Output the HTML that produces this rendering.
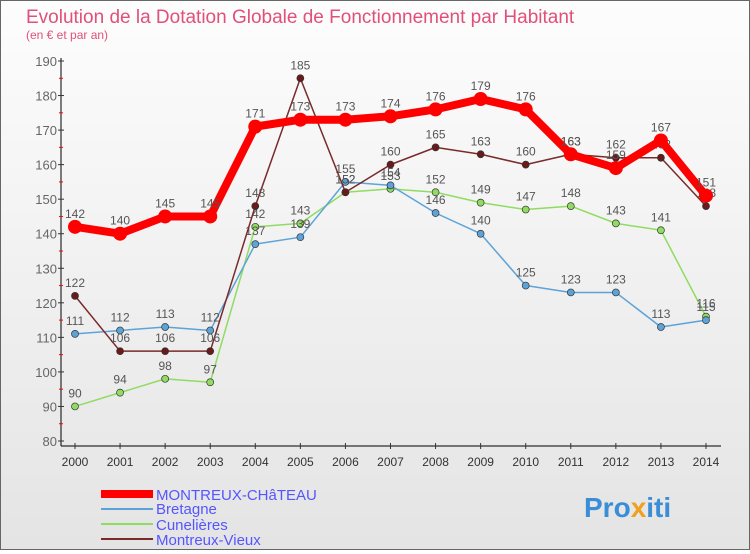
<!DOCTYPE html>
<html><head><meta charset="utf-8"><style>
body{margin:0;width:750px;height:550px;overflow:hidden;font-family:"Liberation Sans",sans-serif}
#wrap{position:relative;width:748px;height:548px;border:1px solid #666;background:linear-gradient(#fdfdfd,#e4e4e4)}
</style></head><body>
<div id="wrap">
<svg id="svg" width="748" height="548" xmlns="http://www.w3.org/2000/svg">
<text x="25" y="22" font-size="19" fill="#e0507a">Evolution de la Dotation Globale de Fonctionnement par Habitant</text>
<text x="25" y="38" font-size="12" fill="#e0507a">(en € et par an)</text>
<g id="axes"></g><g id="series"></g>
<g>
<line x1="100" y1="493" x2="152" y2="493" stroke="#f00" stroke-width="8"/>
<text x="155" y="499" font-size="15" fill="#55f">MONTREUX-CHâTEAU</text>
<line x1="100" y1="508" x2="152" y2="508" stroke="#5da3d8" stroke-width="2"/>
<text x="155" y="513" font-size="15" fill="#55f">Bretagne</text>
<line x1="100" y1="523" x2="152" y2="523" stroke="#8fdc60" stroke-width="2"/>
<text x="155" y="529" font-size="15" fill="#55f">Cunelières</text>
<line x1="100" y1="538" x2="152" y2="538" stroke="#7a2a2a" stroke-width="2"/>
<text x="155" y="544" font-size="15" fill="#55f">Montreux-Vieux</text>
</g>
<text x="583" y="516" font-size="28" font-weight="bold" fill="#3a8ed8">Pro<tspan fill="#f0a020">x</tspan>iti</text>
</svg></div>
<script>
const years=["2000","2001","2002","2003","2004","2005","2006","2007","2008","2009","2010","2011","2012","2013","2014"];
const yTicks=[80,90,100,110,120,130,140,150,160,170,180,190];
const chateau=[142,140,145,145,171,173,173,174,176,179,176,163,159,167,151];
const bretagne=[111,112,113,112,137,139,155,154,146,140,125,123,123,113,115];
const cunelieres=[90,94,98,97,142,143,152,153,152,149,147,148,143,141,116];
const vieux=[122,106,106,106,148,185,152,160,165,163,160,163,162,162,148];
const NS="http://www.w3.org/2000/svg";
const X=i=>74+i*(705-74)/14;
const Y=v=>60+(190-v)*(440-60)/110;
function mk(t,a,p){const e=document.createElementNS(NS,t);for(const k in a)e.setAttribute(k,a[k]);p.appendChild(e);return e;}
const ax=document.getElementById('axes');
mk('line',{x1:60,y1:57,x2:60,y2:445,stroke:'#000'},ax);
mk('line',{x1:60,y1:445,x2:720,y2:445,stroke:'#000'},ax);
yTicks.forEach(v=>{const t=mk('text',{x:56,y:Y(v)+5,'text-anchor':'end','font-size':13,fill:'#666'},ax);t.textContent=v;

mk('line',{x1:57,y1:Y(v),x2:63,y2:Y(v),stroke:'#333'},ax);
if(v<190)mk('line',{x1:58,y1:Y(v+5),x2:62,y2:Y(v+5),stroke:'#f00'},ax);});
years.forEach((y,i)=>{const t=mk('text',{x:X(i),y:465,'text-anchor':'middle','font-size':12,fill:'#333'},ax);t.textContent=y;

mk('line',{x1:X(i),y1:442,x2:X(i),y2:448,stroke:'#333'},ax);});
const sg=document.getElementById('series');
function series(d,col,w,r,dot,name){const g=mk('g',{},sg);

mk('polyline',{points:d.map((v,i)=>X(i)+','+Y(v)).join(' '),fill:'none',stroke:col,'stroke-width':w,'stroke-linejoin':'round'},g);
d.forEach((v,i)=>{const c=mk('circle',{cx:X(i),cy:Y(v),r:r,fill:dot,stroke:'#333','stroke-width':r>5?0:0.7},g);

const t=mk('text',{x:X(i),y:Y(v)-9,'text-anchor':'middle','font-size':12,fill:'#555'},g);t.textContent=v;});}
series(cunelieres,'#8fdc60',1.5,3.5,'#8fdc60','series-cunelieres');
series(bretagne,'#5da3d8',1.5,3.5,'#5da3d8','series-bretagne');
series(vieux,'#7a2a2a',1.5,3.5,'#6a1a1a','series-montreux-vieux');
series(chateau,'#f00',8,7,'#f00','series-montreux-chateau');
</script></body></html>
